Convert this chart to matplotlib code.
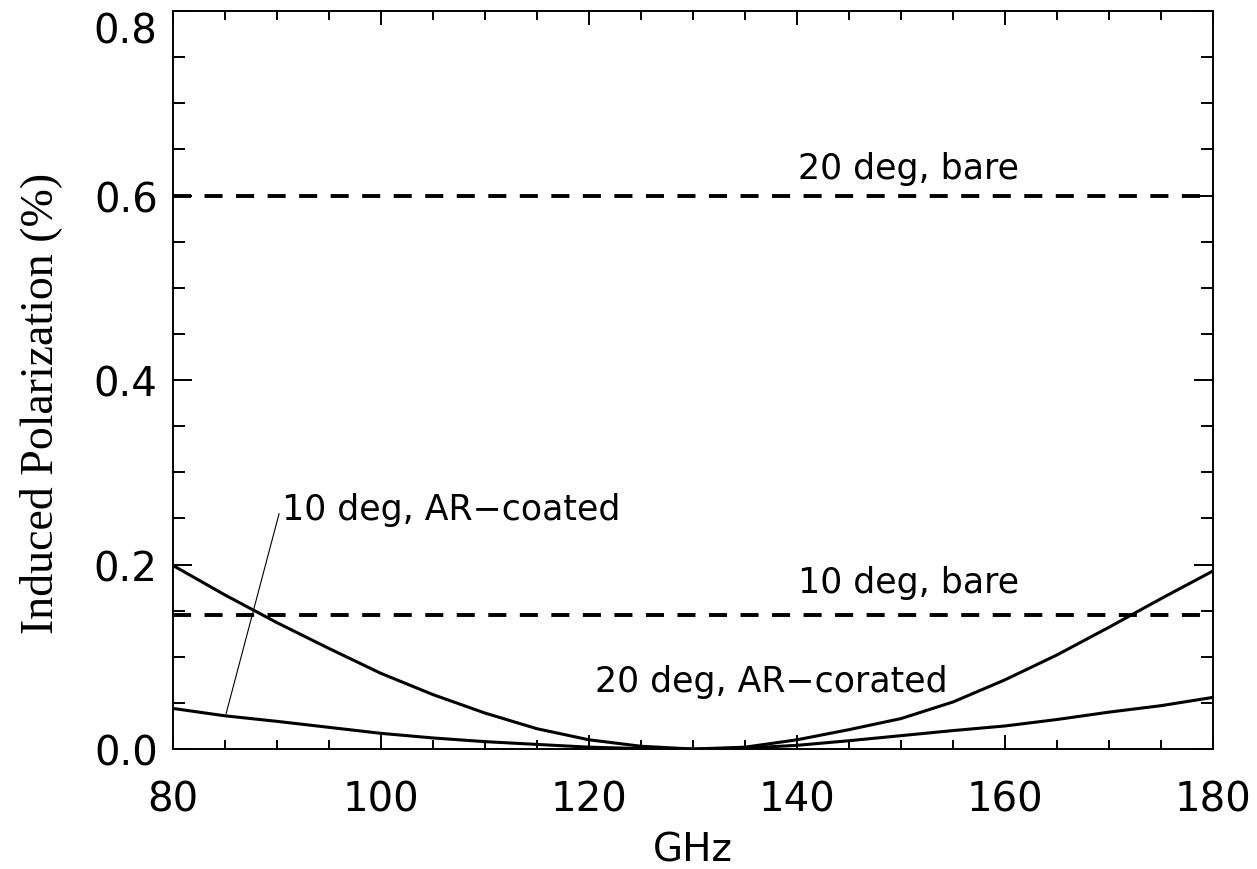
import matplotlib
matplotlib.use("Agg")
import matplotlib.pyplot as plt
from matplotlib.ticker import MultipleLocator

# values
freq_ghz = [80, 85, 90, 95, 100, 105, 110, 115, 120, 125, 130,
            135, 140, 145, 150, 155, 160, 165, 170, 175, 180]
pol_20deg_ar = [0.199, 0.167, 0.137, 0.109, 0.082, 0.059, 0.039, 0.022, 0.010, 0.003, 0.000,
                0.002, 0.010, 0.021, 0.033, 0.051, 0.075, 0.102, 0.132, 0.163, 0.193]
pol_10deg_ar = [0.044, 0.036, 0.030, 0.0235, 0.017, 0.012, 0.008, 0.005, 0.002, 0.0005, 0.0,
                0.001, 0.004, 0.009, 0.0145, 0.020, 0.025, 0.032, 0.040, 0.047, 0.056]
pol_20deg_bare = 0.6
pol_10deg_bare = 0.145

xticks = [80, 100, 120, 140, 160, 180]
yticks = [0.0, 0.2, 0.4, 0.6, 0.8]

fig = plt.figure(figsize=(12.57, 8.70), dpi=100)
ax = fig.add_axes([0.1376, 0.1379, 0.8274, 0.8483])

ax.plot(freq_ghz, pol_20deg_ar, color="black", lw=2.2)
ax.plot(freq_ghz, pol_10deg_ar, color="black", lw=2.2)

lw_d = 2.8
ax.axhline(pol_20deg_bare, color="black", lw=lw_d, dashes=(13 / lw_d, 9.7 / lw_d))
ax.axhline(pol_10deg_bare, color="black", lw=lw_d, dashes=(13 / lw_d, 9.7 / lw_d))

txt = dict(fontsize=25, ha="left", va="baseline", family="DejaVu Sans")
ax.text(140.1, 0.619, "20 deg, bare", **txt)
ax.text(140.1, 0.170, "10 deg, bare", **txt)
ax.text(120.6, 0.063, "20 deg, AR\u2212corated", **txt)
ax.text(90.45, 0.249, "10 deg, AR\u2212coated", **txt)
# pointer from the label to the lower curve
ax.plot([90.2, 85.1], [0.255, 0.038], color="black", lw=0.8)

ax.set_xlim(80, 180)
ax.set_ylim(0, 0.8)
ax.set_xticks(xticks)
ax.set_yticks(yticks)
ax.set_yticklabels([f"{v:.1f}" for v in yticks])
ax.xaxis.set_minor_locator(MultipleLocator(5))
ax.yaxis.set_minor_locator(MultipleLocator(0.05))

ax.tick_params(which="both", direction="in", top=True, right=True, width=1.4, color="black")
ax.tick_params(axis="x", which="major", length=10, pad=22, labelsize=29)
ax.tick_params(axis="x", which="minor", length=6.5)
ax.tick_params(axis="y", which="major", length=13.5, pad=11, labelsize=29)
ax.tick_params(axis="y", which="minor", length=8.5)
for s in ax.spines.values():
    s.set_linewidth(1.4)

ax.get_yticklabels()[-1].set_verticalalignment("top")

ax.set_xlabel("GHz", fontsize=28)
ax.xaxis.set_label_coords(0.5, -0.110)
ax.set_ylabel("Induced Polarization (%)", fontsize=33, family="Liberation Serif")
ax.yaxis.set_label_coords(-0.107, 0.47)

fig.savefig("out.png", dpi=100)
